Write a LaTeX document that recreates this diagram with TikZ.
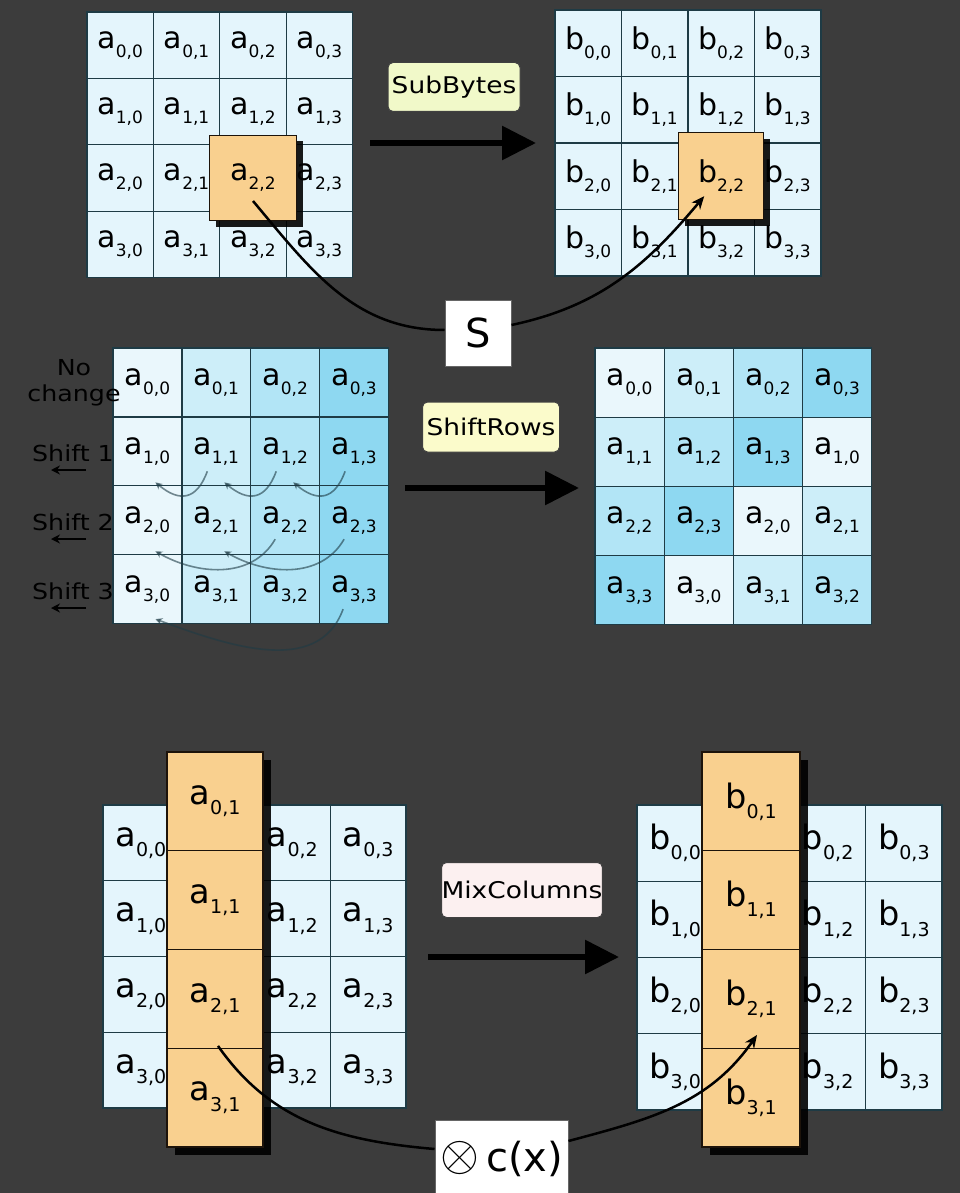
\documentclass[tikz,border=0pt]{standalone}
\usepackage{fontspec}
\usepackage{graphicx}
\setmainfont{DejaVu Sans}
\newfontfamily\lblfont[FakeStretch=1.15]{DejaVu Sans}
\usetikzlibrary{arrows.meta, positioning, calc, shadows}

\definecolor{bggray}{HTML}{3C3C3C}
\definecolor{gridline}{HTML}{1E3B45}
\definecolor{cellpale}{HTML}{E4F5FC}
\definecolor{shade0}{HTML}{EAF7FC}
\definecolor{shade1}{HTML}{CDEEF9}
\definecolor{shade2}{HTML}{B2E5F6}
\definecolor{shade3}{HTML}{8ED8F1}
\definecolor{pickfill}{HTML}{F9D08F}
\definecolor{subfill}{HTML}{F1F9C9}
\definecolor{shiftfill}{HTML}{FBFBCB}
\definecolor{mixfill}{HTML}{FCF0F0}

% one state byte: letter with a lowered index
\newcommand{\elem}[3][1]{\scalebox{#1}{\fontsize{30}{30}\selectfont #2\raisebox{-9pt}{\fontsize{17}{17}\selectfont #3}}}

\tikzset{
    aesfig/.style={x=1pt, y=-1pt, >=Stealth},
    cellbox/.style={draw=gridline, line width=1.3pt, fill=cellpale, inner sep=0pt},
    pickbox/.style={draw=black!85!brown, line width=1.3pt, fill=pickfill, inner sep=0pt,
        drop shadow={shadow xshift=#1, shadow yshift=-#1, fill=black, opacity=0.9}},
    pickbox/.default=6pt,
    oplabel/.style={draw=black!75, line width=1pt, rounded corners=5pt, inner sep=0pt,
        font=\lblfont\fontsize{23}{23}\selectfont},
    funbox/.style={draw=black!60, line width=1pt, fill=white, inner sep=0pt},
    sidelabel/.style={font=\lblfont\fontsize{22}{26}\selectfont, inner sep=0pt},
    bigarrow/.style={line width=6pt, -{Triangle[length=34pt,width=33pt]}},
    curvearrow/.style={line width=2.5pt, -{Stealth[length=13pt,width=11pt]}},
    smallarrow/.style={line width=2.5pt, -{Stealth[length=9pt,width=9pt]}},
    shiftarc/.style={draw=gridline, line width=1.6pt, opacity=0.6, -{Stealth[length=7pt,width=7pt]}},
}

\begin{document}
\begin{tikzpicture}[aesfig]
    \path[use as bounding box, fill=bggray] (0,0) rectangle (960,1193);
    \clip (0,0) rectangle (960,1193);

    % SubBytes
    \foreach \r in {0,...,3}
        \foreach \c in {0,...,3} {
            \node[cellbox, minimum size=66.4pt] (sa-\r-\c) at (120.2+66.4*\c, 45.2+66.4*\r) {\ifnum\r\c=22 \else\elem{a}{\r,\c}\fi};
            \node[cellbox, minimum size=66.5pt] (sb-\r-\c) at (588.2+66.5*\c, 43.2+66.5*\r) {\ifnum\r\c=22 \else\elem{b}{\r,\c}\fi};
        }
    \node[pickbox, minimum width=87pt, minimum height=85pt] (sapick) at (sa-2-2) {\elem{a}{2,2}};
    \node[pickbox, minimum width=85pt, minimum height=87pt] (sbpick) at (sb-2-2) {\elem{b}{2,2}};

    \node[oplabel, fill=subfill, minimum width=132pt, minimum height=49pt] (subname) at (454,87) {SubBytes};
    \coordinate (subfrom) at (370,143);
    \coordinate (subto)   at (536,143);
    \draw[bigarrow] (subfrom) -- (subto);

    \node[funbox, minimum size=66pt] (sfun) at (478,333) {\fontsize{40}{40}\selectfont S};
    \draw[curvearrow, -] ([yshift=-23pt]sapick.center) to[out=-50, in=180] ([yshift=3pt]sfun.west);
    \draw[curvearrow] ([yshift=8pt]sfun.east) to[out=12, in=-130] ([xshift=-17pt, yshift=-20pt]sbpick.center);

    % ShiftRows
    \foreach \r in {0,...,3}
        \foreach \c in {0,...,3} {
            \pgfmathtruncatemacro\k{mod(\c+\r,4)}
            \node[cellbox, fill=shade\c, minimum size=68.9pt] (ra-\r-\c) at (147.4+68.9*\c, 382.4+68.9*\r) {\elem{a}{\r,\c}};
            \node[cellbox, fill=shade\k, minimum size=69.2pt] (rb-\r-\c) at (629.6+69.2*\c, 382.6+69.2*\r) {\elem{a}{\r,\k}};
        }

    \node[sidelabel, align=center] (nochange) at (74,383) {No\\change};
    \foreach \r/\y in {1/453, 2/522, 3/591} {
        \node[sidelabel] (shl\r) at (73,\y) {Shift \r};
        \coordinate (shl\r-tail) at ($(shl\r)+(13,17)$);
        \coordinate (shl\r-head) at ($(shl\r)+(-22,17)$);
        \draw[smallarrow] (shl\r-tail) -- (shl\r-head);
    }

    % rotation of the rows
    \foreach \j/\i in {1/0, 2/1, 3/2}
        \draw[shiftarc] ([xshift=-9pt, yshift=-20pt]ra-1-\j.center) to[out=-110, in=-40, looseness=1.5] ([xshift=8pt, yshift=-31pt]ra-1-\i.center);
    \foreach \j/\i in {2/0, 3/1}
        \draw[shiftarc] ([xshift=-10pt, yshift=-19pt]ra-2-\j.center) to[out=-120, in=-30] ([xshift=8pt, yshift=-31pt]ra-2-\i.center);
    \draw[shiftarc] ([xshift=-11pt, yshift=-20pt]ra-3-3.center) to[out=-110, in=-20] ([xshift=8pt, yshift=-30pt]ra-3-0.center);

    \node[oplabel, fill=shiftfill, minimum width=137pt, minimum height=50pt] (shiftname) at (491,427) {ShiftRows};
    \coordinate (shiftfrom) at (405,488);
    \coordinate (shiftto)   at (579,488);
    \draw[bigarrow] (shiftfrom) -- (shiftto);

    % MixColumns
    \foreach \r in {0,...,3}
        \foreach \c in {0,...,3} {
            \node[cellbox, minimum size=75.75pt] (ma-\r-\c) at (140.9+75.75*\c, 842.9+75.75*\r) {\ifnum\c=1 \else\elem[1.12]{a}{\r,\c}\fi};
            \node[cellbox, minimum size=76.25pt] (mb-\r-\c) at (675.1+76.25*\c, 843.1+76.25*\r) {\ifnum\c=1 \else\elem[1.12]{b}{\r,\c}\fi};
        }
    \foreach \r in {0,...,3} {
        \node[pickbox=8pt, minimum width=96pt, minimum height=98.75pt] (mapick\r) at (215, 801.4+98.75*\r) {\elem[1.12]{a}{\r,1}};
        \node[pickbox=8pt, minimum width=98pt, minimum height=98.75pt] (mbpick\r) at (751, 801.4+98.75*\r) {\elem[1.12]{b}{\r,1}};
    }

    \node[oplabel, fill=mixfill, minimum width=150pt, minimum height=55pt] (mixname) at (522,890) {MixColumns};
    \coordinate (mixfrom) at (428,957);
    \coordinate (mixto)   at (619,957);
    \draw[bigarrow] (mixfrom) -- (mixto);

    \node[funbox, minimum width=133pt, minimum height=78pt] (cfun) at (501.5,1159)
        {\raisebox{1pt}{\scalebox{5}{$\otimes$}}\hspace{7pt}{\fontsize{40}{40}\selectfont c(x)}};
    \draw[curvearrow, -] ([xshift=3pt, yshift=3pt]mapick2.south) to[out=-55, in=175] ([yshift=10pt]cfun.west);
    \draw[curvearrow] ([yshift=18pt]cfun.east) to[out=15, in=-125] ([xshift=6pt, yshift=14pt]mbpick2.south);
\end{tikzpicture}
\end{document}
